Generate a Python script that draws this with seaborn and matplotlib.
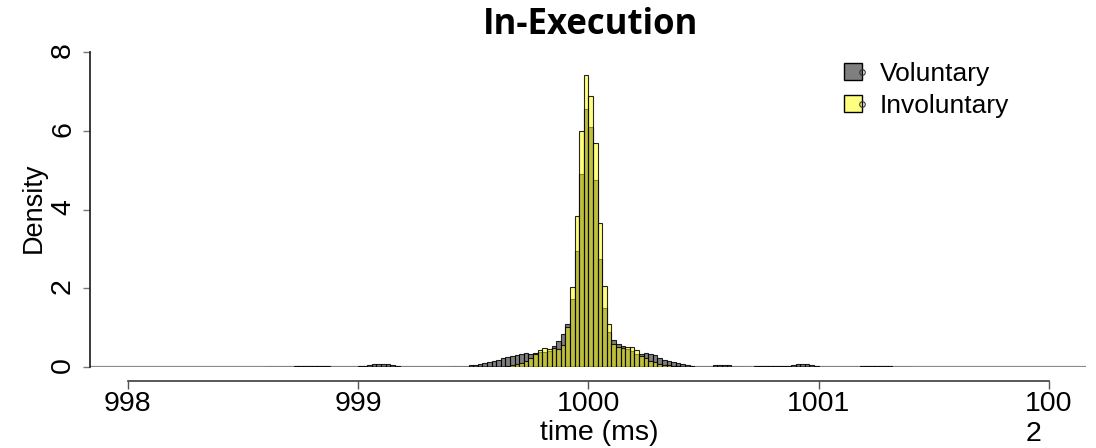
import numpy as np
import pandas as pd
import matplotlib
matplotlib.use("Agg")
import matplotlib.pyplot as plt
import seaborn as sns
from matplotlib.patches import Patch
from matplotlib.lines import Line2D
from matplotlib.legend_handler import HandlerPatch

# histogram bin densities (bin width 0.02 ms)
bin_width = 0.02
vol_start = 998.60   # left edge of first Voluntary bin
inv_start = 999.40   # left edge of first Involuntary bin

voluntary = [
    0, 0, 0, 0, 0, 0,
    0.025, 0.025, 0.025, 0.025, 0.025, 0.025, 0.025, 0.025,
    0, 0, 0, 0, 0, 0,
    0.02, 0.03, 0.05, 0.07, 0.08, 0.08, 0.07, 0.05, 0.03, 0.01,
    0, 0, 0, 0, 0, 0, 0, 0, 0, 0, 0, 0, 0, 0,
    0.04, 0.05, 0.085, 0.11, 0.13, 0.15, 0.18, 0.22, 0.25, 0.28, 0.31, 0.32, 0.35, 0.33, 0.36, 0.39,
    0.37, 0.40, 0.53, 0.66, 0.83, 1.10, 1.72, 2.94, 4.90, 6.54,
    6.10, 4.75, 2.74, 1.49, 0.90, 0.68, 0.59, 0.53, 0.45, 0.40,
    0.33, 0.32, 0.35, 0.34, 0.31, 0.24, 0.19, 0.15, 0.13, 0.09, 0.07, 0.05, 0.03,
    0, 0, 0, 0,
    0.04, 0.04, 0.04, 0.04,
    0, 0, 0, 0, 0,
    0.02, 0.02, 0.02, 0.02, 0.02, 0.02, 0.02,
    0.03, 0.06, 0.08, 0.08, 0.07, 0.05, 0.02,
    0.01, 0.01,
    0, 0, 0, 0, 0, 0, 0,
    0.025, 0.025, 0.025, 0.025, 0.025, 0.025, 0.025,
    0, 0, 0, 0,
]

involuntary = [
    0, 0, 0, 0, 0, 0, 0, 0, 0, 0, 0, 0,
    0.03, 0.05, 0.07, 0.11, 0.15, 0.24, 0.34, 0.43,
    0.49, 0.45, 0.47, 0.45, 0.56, 1.01, 2.04, 3.84, 6.00, 7.41,
    6.88, 5.68, 3.67, 2.06, 1.08, 0.58, 0.50, 0.47, 0.50, 0.52,
    0.43, 0.27, 0.22, 0.15, 0.12, 0.08, 0.06, 0.04, 0.03, 0.02,
    0, 0, 0, 0, 0, 0, 0, 0, 0, 0, 0, 0, 0, 0,
]

x_ticks = [998, 999, 1000, 1001, 1002]
x_ticklabels = ['998', '999', '1000', '1001', '100\n2']
y_ticks = [0, 2, 4, 6, 8]


# legend key: filled square with a small open circle on its right edge
class SquareWithDot(HandlerPatch):
    def create_artists(self, legend, orig_handle, xdescent, ydescent, width, height,
                       fontsize, trans):
        arts = super().create_artists(legend, orig_handle, xdescent, ydescent, width,
                                      height, fontsize, trans)
        dot = Line2D([width - xdescent], [height / 2 - ydescent], marker='o', ms=4,
                     mfc='none', mec='#333333', mew=0.8, transform=trans)
        return arts + [dot]


sns.set_theme(style='ticks')
plt.rcParams['font.family'] = ['Liberation Sans', 'DejaVu Sans']
plt.rcParams['text.color'] = 'black'
plt.rcParams['axes.labelcolor'] = 'black'
plt.rcParams['xtick.labelcolor'] = 'black'
plt.rcParams['ytick.labelcolor'] = 'black'

fig = plt.figure(figsize=(10.96, 4.48), dpi=100)
ax = fig.add_axes([0.0821, 0.1808, 0.9088, 0.7031])

vol_edges = (vol_start + bin_width * np.arange(len(voluntary) + 1)).tolist()
inv_edges = (inv_start + bin_width * np.arange(len(involuntary) + 1)).tolist()
df_vol = pd.DataFrame({'time': np.array(vol_edges[:-1]) + bin_width / 2, 'density': voluntary})
df_inv = pd.DataFrame({'time': np.array(inv_edges[:-1]) + bin_width / 2, 'density': involuntary})

ax.axhline(0, color='#8a8a8a', lw=1.6, zorder=0.5)

sns.histplot(data=df_vol, x='time', weights='density', bins=vol_edges,
             stat='count', color='black', alpha=0.5,
             edgecolor=(0, 0, 0, 0.85), linewidth=0.8, ax=ax)
sns.histplot(data=df_inv, x='time', weights='density', bins=inv_edges,
             stat='count', color='yellow', alpha=0.5,
             edgecolor=(0, 0, 0, 0.85), linewidth=0.8, ax=ax)

ax.set_xlim(997.836, 1002.161)
ax.set_ylim(0, 8)

sns.despine(ax=ax)
ax.spines['bottom'].set_position(('outward', 10))
ax.spines['bottom'].set_bounds(998, 1002)
ax.spines['bottom'].set_color('#444444')
ax.spines['left'].set_bounds(0, 8)
ax.spines['left'].set_color('#222222')

ax.set_xticks(x_ticks)
ax.set_xticklabels(x_ticklabels)
ax.get_xticklabels()[-1].set_multialignment('left')
ax.set_yticks(y_ticks)
ax.tick_params(axis='x', length=6, width=1, color='#555555', labelcolor='black',
               pad=1, labelsize=20.5)
ax.tick_params(axis='y', length=5, width=1, color='#777777', labelcolor='black',
               pad=5, labelsize=20.5, labelrotation=90)

ax.set_xlabel('time (ms)', fontsize=20.5, color='black')
ax.xaxis.set_label_coords(0.511, -0.168)
ax.set_ylabel('Density', fontsize=19.5, color='black')
ax.yaxis.set_label_coords(-0.043, 0.505)

handles = [Patch(facecolor=(0, 0, 0, 0.5), edgecolor='black', label='Voluntary'),
           Patch(facecolor=(1, 1, 0, 0.5), edgecolor='black', label='Involuntary')]
ax.legend(handles=handles, loc='upper left', bbox_to_anchor=(844 / 1096, (448 - 62) / 448),
          bbox_transform=fig.transFigure, frameon=False, fontsize=19,
          handlelength=0.7, handleheight=0.6, handletextpad=0.65,
          labelspacing=0.31, borderpad=0, borderaxespad=0,
          handler_map={Patch: SquareWithDot()})

fig.text(591 / 1096, (448 - 34) / 448, 'In-Execution', ha='center', va='baseline',
         fontsize=25, fontweight='bold', color='black', family=['Open Sans', 'DejaVu Sans'])

fig.savefig('out.png', dpi=100)
